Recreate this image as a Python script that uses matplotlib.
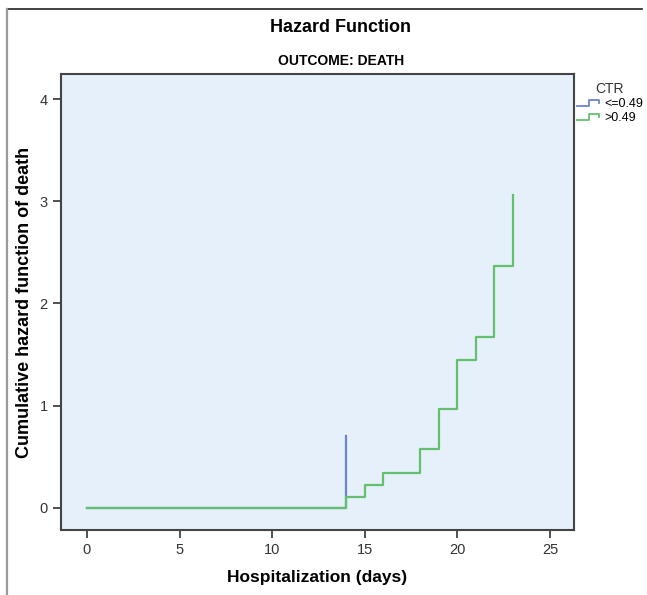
import matplotlib
matplotlib.use('Agg')
import matplotlib.pyplot as plt
from matplotlib.lines import Line2D
from matplotlib.legend_handler import HandlerBase

plt.rcParams['font.family'] = ['Liberation Sans', 'DejaVu Sans']

# --- data ---
low_times = [0, 14]
low_hazard = [0.0, 0.70]

high_times = [0, 14, 15, 16, 18, 19, 20, 21, 22, 23]
high_hazard = [0.0, 0.10, 0.22, 0.34, 0.57, 0.97, 1.45, 1.67, 2.37, 3.06]

group_labels = ['<=0.49', '>0.49']
group_colors = ['#6f82cf', '#62c06e']


class StepHandler(HandlerBase):
    # legend key drawn as a small step shape, like SPSS does
    def create_artists(self, legend, orig_handle, xdescent, ydescent,
                       width, height, fontsize, trans):
        x0, x1, x2 = -xdescent, -xdescent + 0.45 * width, -xdescent + 0.85 * width
        lo, hi = -ydescent + 0.15 * height, -ydescent + 0.8 * height
        line = Line2D([x0, x1, x1, x2, x2], [lo, lo, hi, hi, hi - 0.35 * height],
                      color=orig_handle.get_color(), lw=1.3, transform=trans)
        return [line]


fig = plt.figure(figsize=(6.47, 5.95), dpi=100)
ax = fig.add_axes([0.0943, 0.109, 0.793, 0.767])
ax.set_facecolor('#e6f0fa')

# outer frame (only top and left edges are visible in the crop)
fig.add_artist(Line2D([0.011, 0.992], [0.985, 0.985], color='#222222', lw=1.2))
fig.add_artist(Line2D([0.011, 0.011], [0.0, 0.985], color='#999999', lw=1.6))

ax.step(low_times, low_hazard, where='post', color=group_colors[0], lw=1.6)
ax.step(high_times, high_hazard, where='post', color=group_colors[1], lw=1.6)

ax.set_xlim(-1.4, 26.3)
ax.set_ylim(-0.22, 4.25)
ax.set_xticks([0, 5, 10, 15, 20, 25])
ax.set_yticks([0, 1, 2, 3, 4])
ax.tick_params(direction='out', length=6, width=1.2, color='#333333',
               labelsize=10.5, labelcolor='#333333')
for s in ax.spines.values():
    s.set_color('#444444')
    s.set_linewidth(1.5)

ax.set_xlabel('Hospitalization (days)', fontsize=12.5, fontweight='bold', labelpad=9)
ax.set_ylabel('Cumulative hazard function of death', fontsize=13, fontweight='bold',
              labelpad=5)

fig.text(0.527, 0.953, 'Hazard Function', ha='center', va='center',
         fontsize=13, fontweight='bold')
fig.text(0.527, 0.897, 'OUTCOME: DEATH', ha='center', va='center',
         fontsize=10, fontweight='bold')

handles = [Line2D([], [], color=c) for c in group_colors]
leg = fig.legend(handles, group_labels, title='CTR', loc='upper left',
                 bbox_to_anchor=(0.892, 0.862), frameon=False, fontsize=9,
                 title_fontsize=10, handlelength=2.1, handletextpad=0.05,
                 labelspacing=0.15, borderpad=0, borderaxespad=0,
                 handler_map={Line2D: StepHandler()})
leg.get_title().set_color('#333333')

fig.savefig('out.png', dpi=100)
